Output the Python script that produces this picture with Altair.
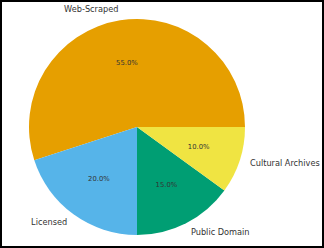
import altair as alt
import pandas as pd
import math

categories = ["Web-Scraped", "Licensed", "Public Domain", "Cultural Archives"]
shares = [55, 20, 15, 10]
colors = ["#E69F00", "#56B4E9", "#009E73", "#F0E442"]

df = pd.DataFrame({"source": categories, "share": shares})

CX, CY, R = 137, 127, 108

base = alt.Chart(df).transform_window(
    idx="row_number()"
).transform_joinaggregate(
    total="sum(share)"
).transform_stack(
    stack="share", groupby=[], as_=["s0", "s1"],
    sort=[alt.SortField("idx", order="descending")]
).transform_calculate(
    f0="datum.s0 / datum.total",
    f1="datum.s1 / datum.total",
    fm="(datum.s0 + datum.s1) / 2 / datum.total",
    pct="format(datum.share / datum.total, '.1%')",
    side="cos(PI/2 - 2*PI*(datum.s0 + datum.s1) / 2 / datum.total + PI/2) < 0 ? 'L' : 'R'",
)

tscale = alt.Scale(domain=[0, 1], range=[math.pi / 2, math.pi / 2 + 2 * math.pi])

pie = base.mark_arc(radius=R).encode(
    theta=alt.Theta("f0:Q", scale=tscale, stack=None),
    theta2="f1:Q",
    color=alt.Color("source:N", scale=alt.Scale(domain=categories, range=colors), legend=None),
    x=alt.value(CX),
    y=alt.value(CY),
)

pct = base.mark_text(radius=0.6 * R, fontSize=6.8, font="DejaVu Sans", color="#333333").encode(
    theta=alt.Theta("fm:Q", scale=tscale, stack=None),
    text="pct:N",
    x=alt.value(CX),
    y=alt.value(CY),
)

# matplotlib-like label alignment: right-aligned on the left half, left-aligned on the right half
# screen angle (clockwise from 12) = PI/2 + 2PI*fm ; x offset = sin(angle)
lab_left = base.transform_filter(
    "sin(PI/2 + 2*PI*datum.fm) < 0"
).mark_text(radius=1.1 * R, fontSize=8.2, font="DejaVu Sans", color="#333333", align="right").encode(
    theta=alt.Theta("fm:Q", scale=tscale, stack=None), text="source:N",
    x=alt.value(CX), y=alt.value(CY),
)
lab_right = base.transform_filter(
    "sin(PI/2 + 2*PI*datum.fm) >= 0"
).mark_text(radius=1.1 * R, fontSize=8.2, font="DejaVu Sans", color="#333333", align="left").encode(
    theta=alt.Theta("fm:Q", scale=tscale, stack=None), text="source:N",
    x=alt.value(CX), y=alt.value(CY),
)

frame = alt.Chart(df).transform_filter("datum.source == 'Web-Scraped'").mark_rect(
    fill=None, stroke="black", strokeWidth=2
).encode(
    x=alt.value(1), x2=alt.value(323), y=alt.value(1), y2=alt.value(247)
)

chart = alt.layer(pie, pct, lab_left, lab_right, frame).properties(
    width=324, height=248, padding=0, autosize=alt.AutoSizeParams(type="none"),
    background="white"
).configure_view(stroke=None)

chart.save("out.html", embed_options={"renderer": "svg", "actions": False})
